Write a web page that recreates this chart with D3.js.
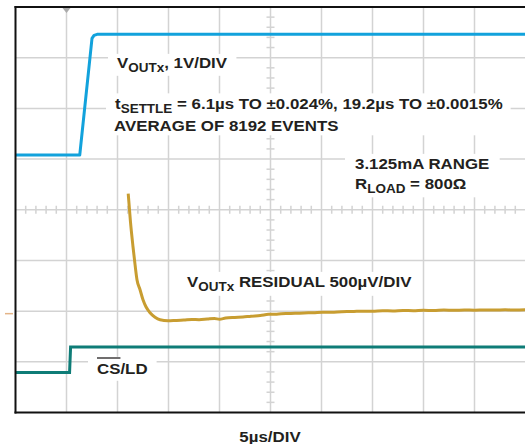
<!DOCTYPE html>
<html>
<head>
<meta charset="utf-8">
<script src="https://cdn.jsdelivr.net/npm/d3@7"></script>
<style>
  html, body { margin: 0; padding: 0; background: #fff; }
  svg { display: block; }
  text { font-family: "Liberation Sans", Arial, Helvetica, sans-serif; font-weight: bold; fill: #231f20; }
</style>
</head>
<body>
<svg id="chart" width="525" height="444"></svg>
<script>
// ---------- DATA ----------
// time in microseconds (5 µs/DIV, 10 divisions)
const timeTicks = [0, 5, 10, 15, 20, 25, 30, 35, 40, 45, 50];
const divTicks = [-4, -3, -2, -1, 0, 1, 2, 3, 4];

// VOUTx, 1V/DIV (volts relative to screen centre)
const voutTime = [0, 6.3, 7.5, 7.7, 8.0, 50];
const voutValue = [1.08, 1.08, 3.38, 3.44, 3.46, 3.46];

// VOUTx residual, 500µV/DIV (µV relative to screen centre)
const residTime = [11.05, 11.27, 11.52, 11.72, 11.91, 12.21, 12.5, 12.79, 13.19, 13.68, 14.17, 14.95,
  15.7, 16.5, 17.3, 18.0, 18.8, 19.5, 20.0, 20.6, 21.5, 22.3, 23.1, 24.0, 24.8, 25.6, 26.5, 27.4,
  28.3, 29.2, 30.1, 31.0, 32.0, 33.0, 34.0, 35.0, 36.0, 37.0, 38.0, 39.0, 40.0, 41.0, 42.0, 43.0,
  44.0, 45.0, 46.0, 47.0, 48.0, 49.0, 50.0];
const residValue = [160, -118, -365, -542, -690, -789, -888, -957, -1016, -1060, -1085, -1095,
  -1092, -1088, -1082, -1084, -1078, -1073, -1080, -1068, -1062, -1058, -1050, -1044, -1032, -1030,
  -1024, -1022, -1018, -1016, -1010, -1012, -1005, -1004, -1000, -1002, -997, -998, -994, -996,
  -992, -994, -990, -992, -989, -991, -988, -990, -987, -989, -986];

// CS/LD logic trace (screen divisions)
const csTime = [0, 5.3, 5.4, 50];
const csValue = [-3.21, -3.21, -2.71, -2.71];

// scale factors stated on the chart
const voutVoltsPerDiv = 1;       // 1V/DIV
const residMicroVoltsPerDiv = 500; // 500µV/DIV

// ---------- LAYOUT ----------
const svg = d3.select("#chart");
const pLeft = 15.5, pRight = 525.5, pTop = 7, pBottom = 412.5;
const x = d3.scaleLinear().domain([0, 50]).range([pLeft, pRight]);
const y = d3.scaleLinear().domain([-4, 4]).range([pBottom, pTop]);

const gridColor = "#d3d3d3";

// grid
const grid = svg.append("g");
grid.selectAll("line.v").data(timeTicks.slice(1, -1)).join("line")
  .attr("x1", d => x(d)).attr("x2", d => x(d))
  .attr("y1", pTop).attr("y2", pBottom)
  .attr("stroke", gridColor).attr("stroke-width", 1.5);
grid.selectAll("line.h").data(divTicks.slice(1, -1)).join("line")
  .attr("x1", pLeft).attr("x2", pRight)
  .attr("y1", d => y(d)).attr("y2", d => y(d))
  .attr("stroke", gridColor).attr("stroke-width", 1.5);

// minor ticks on centre axes (1/5 division)
const minorX = d3.range(0, 50.001, 1).filter(t => t % 5 !== 0);
const minorY = d3.range(-4, 4.001, 0.2).filter(v => Math.abs(v - Math.round(v)) > 1e-6);
grid.selectAll("line.mx").data(minorX).join("line")
  .attr("x1", d => x(d)).attr("x2", d => x(d))
  .attr("y1", y(0) - 4).attr("y2", y(0) + 4)
  .attr("stroke", gridColor).attr("stroke-width", 1.5);
grid.selectAll("line.my").data(minorY).join("line")
  .attr("x1", x(25) - 4).attr("x2", x(25) + 4)
  .attr("y1", d => y(d)).attr("y2", d => y(d))
  .attr("stroke", gridColor).attr("stroke-width", 1.5);

// label layer (white boxes go under traces)
const boxes = svg.append("g");
const traces = svg.append("g");
const labels = svg.append("g");

// frame
svg.append("line").attr("x1", pLeft).attr("x2", pLeft).attr("y1", pTop - 1).attr("y2", pBottom + 1)
  .attr("stroke", "#111").attr("stroke-width", 2);
svg.append("line").attr("x1", pLeft - 1).attr("x2", pRight).attr("y1", pTop).attr("y2", pTop)
  .attr("stroke", "#111").attr("stroke-width", 2);
svg.append("line").attr("x1", pLeft - 1).attr("x2", pRight).attr("y1", pBottom).attr("y2", pBottom)
  .attr("stroke", "#111").attr("stroke-width", 2);

// trigger marker
svg.append("path")
  .attr("d", `M${x(5) - 4},${pTop + 1}L${x(5) + 4},${pTop + 1}L${x(5)},${pTop + 6}Z`)
  .attr("fill", "#aaaaaa");
// residual ground marker
svg.append("line").attr("x1", 5).attr("x2", 13)
  .attr("y1", y(-2.05)).attr("y2", y(-2.05))
  .attr("stroke", "#e3b487").attr("stroke-width", 1.5);

// traces
const line = d3.line().x(d => x(d[0])).y(d => y(d[1]));
traces.append("path")
  .attr("d", line(voutTime.map((t, i) => [t, voutValue[i] / voutVoltsPerDiv])))
  .attr("fill", "none").attr("stroke", "#12a2dc").attr("stroke-width", 3).attr("stroke-linejoin", "round");
traces.append("path")
  .attr("d", d3.line().curve(d3.curveMonotoneX).x(d => x(d[0])).y(d => y(d[1]))(residTime.map((t, i) => [t, residValue[i] / residMicroVoltsPerDiv])))
  .attr("fill", "none").attr("stroke", "#c89d31").attr("stroke-width", 3).attr("stroke-linejoin", "round");
traces.append("path")
  .attr("d", line(csTime.map((t, i) => [t, csValue[i]])))
  .attr("fill", "none").attr("stroke", "#0e7c77").attr("stroke-width", 3);

// text helper (horizontally widened Helvetica-like lettering)
const SX = 1.125;
function label(xp, yp, parts, size, anchor) {
  const t = labels.append("text").attr("x", 0).attr("y", 0)
    .attr("transform", `translate(${xp},${yp}) scale(${SX},1)`)
    .attr("font-size", size).attr("text-anchor", anchor || "start");
  let shifted = 0;
  parts.forEach(p => {
    const s = t.append("tspan").text(p.t);
    if (p.sub) {
      s.attr("font-size", size * 0.8).attr("dy", 4 - shifted); shifted = 4;
    } else {
      s.attr("dy", -shifted); shifted = 0;
    }
  });
  t.datum({xp, yp});
  return t;
}
function bboxOf(n) {
  const b = n.node().getBBox();
  const d = n.datum();
  return {x0: d.xp + b.x * SX, x1: d.xp + (b.x + b.width) * SX, y0: d.yp + b.y, y1: d.yp + b.y + b.height};
}
function box(nodes, px, py) {
  let x0 = Infinity, y0 = Infinity, x1 = -Infinity, y1 = -Infinity;
  nodes.forEach(n => {
    const b = bboxOf(n);
    x0 = Math.min(x0, b.x0); y0 = Math.min(y0, b.y0);
    x1 = Math.max(x1, b.x1); y1 = Math.max(y1, b.y1);
  });
  boxes.append("rect").attr("x", x0 - px).attr("y", y0 - py)
    .attr("width", x1 - x0 + 2 * px).attr("height", y1 - y0 + 2 * py).attr("fill", "#fff");
}

const fs = 15;
const l1 = label(117, 68, [{t: "V"}, {t: "OUTx", sub: true}, {t: ", 1V/DIV"}], fs);
box([l1], 9, 1);
const l2 = label(115, 108.5, [{t: "t"}, {t: "SETTLE", sub: true}, {t: " = 6.1µs TO ±0.024%, 19.2µs TO ±0.0015%"}], fs);
const l3 = label(114, 130.5, [{t: "AVERAGE OF 8192 EVENTS"}], fs);
box([l2, l3], 8, 2);
const l4 = label(355, 169, [{t: "3.125mA RANGE"}], fs);
const l5 = label(355, 188.5, [{t: "R"}, {t: "LOAD", sub: true}, {t: " = 800Ω"}], fs);
box([l4, l5], 10, 2);
const l6 = label(187, 287, [{t: "V"}, {t: "OUTx", sub: true}, {t: " RESIDUAL 500µV/DIV"}], fs);
box([l6], 9, 2);
const l7 = label(97, 374, [{t: "CS"}, {t: "/LD"}], fs);
box([l7], 9, 4);
// overline for CS
const csLen = l7.select("tspan").node().getComputedTextLength() * SX;
labels.append("line").attr("x1", 97).attr("x2", 97 + csLen)
  .attr("y1", 358).attr("y2", 358).attr("stroke", "#231f20").attr("stroke-width", 1.3);

label(270, 441.5, [{t: "5µs/DIV"}], fs, "middle");
</script>
</body>
</html>
